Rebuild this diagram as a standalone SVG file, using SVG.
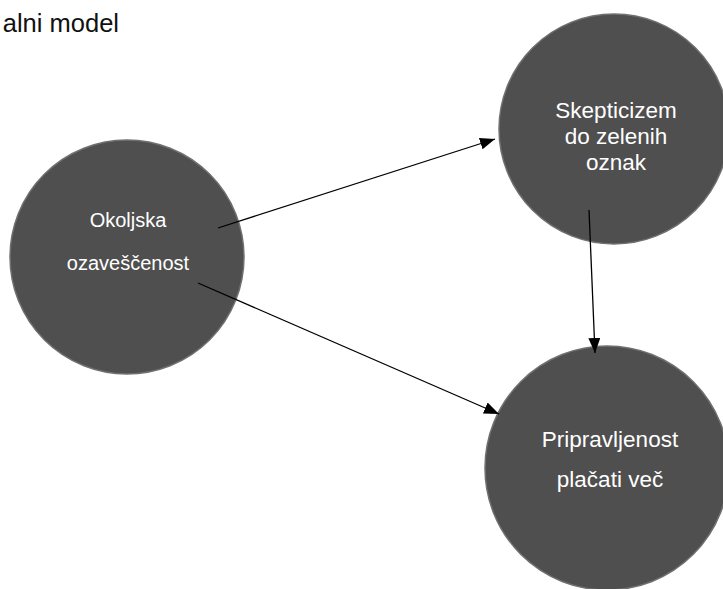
<svg xmlns="http://www.w3.org/2000/svg" width="723" height="589" viewBox="0 0 723 589">
<style>
.node{fill:#4f4f4f;stroke:#707070;stroke-width:1.5}
.lbl{fill:#ffffff;font-family:"Liberation Sans",Arial,sans-serif;text-anchor:middle}
.edge{stroke:#000;stroke-width:1.3;fill:none;marker-end:url(#ah)}
</style>
<defs>
<marker id="ah" markerUnits="userSpaceOnUse" markerWidth="15" markerHeight="12" refX="15" refY="6" orient="auto">
<path d="M0,0 L15,6 L0,12 z" fill="#000"/>
</marker>
</defs>
<rect width="723" height="589" fill="#fff"/>
<text x="119" y="32" font-family="'Liberation Sans',Arial,sans-serif" font-size="25.5" text-anchor="end" fill="#111">alni model</text>
<g id="n1">
<circle class="node" cx="127" cy="257" r="117"/>
<text class="lbl" x="128" y="227" font-size="20">Okoljska</text>
<text class="lbl" x="128" y="270" font-size="20">ozaveščenost</text>
</g>
<g id="n2">
<circle class="node" cx="614" cy="129" r="115"/>
<text class="lbl" x="616" y="118" font-size="22.5">Skepticizem</text>
<text class="lbl" x="616" y="144" font-size="22.5">do zelenih</text>
<text class="lbl" x="616" y="170" font-size="22.5">oznak</text>
</g>
<g id="n3">
<circle class="node" cx="607" cy="468" r="122"/>
<text class="lbl" x="610" y="447" font-size="22.5">Pripravljenost</text>
<text class="lbl" x="610" y="487" font-size="22.5">plačati več</text>
</g>
<g id="connectors">
<line class="edge" x1="218" y1="228" x2="495" y2="139"/>
<line class="edge" x1="198" y1="283" x2="499" y2="414"/>
<line class="edge" x1="589" y1="210" x2="595" y2="353"/>
</g>
</svg>
